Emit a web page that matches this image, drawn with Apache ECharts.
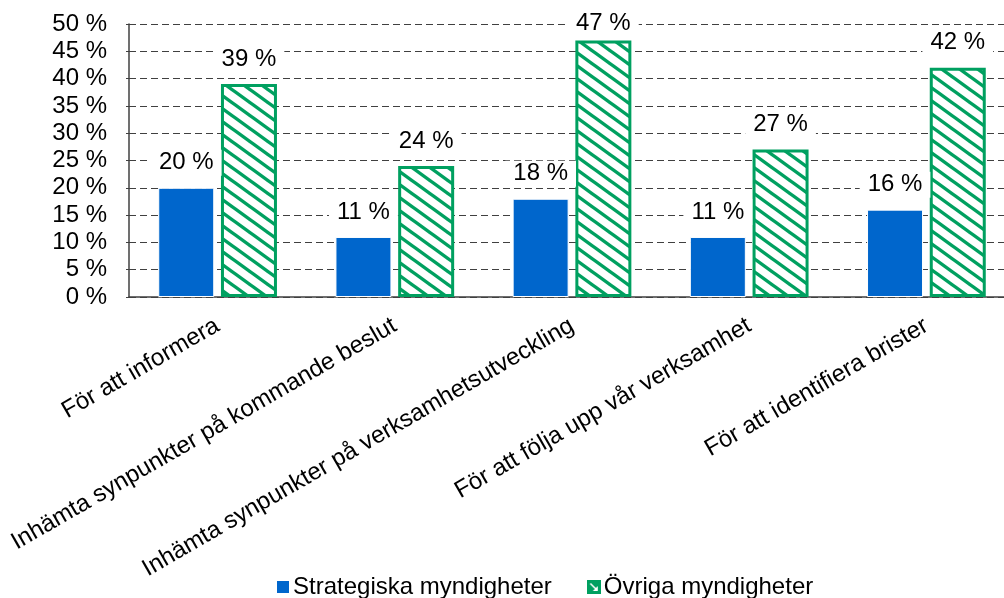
<!DOCTYPE html>
<html>
<head>
<meta charset="utf-8">
<script src="https://cdn.jsdelivr.net/npm/echarts@6/dist/echarts.min.js"></script>
<style>
  html, body { margin: 0; padding: 0; background: #fff; }
  #chart { width: 1004px; height: 598px; }
</style>
</head>
<body>
<div id="chart"></div>
<script>
// Survey answers: share of authorities per purpose (%)
const categories = [
  'För att informera',
  'Inhämta synpunkter på kommande beslut',
  'Inhämta synpunkter på verksamhetsutveckling',
  'För att följa upp vår verksamhet',
  'För att identifiera brister'
];
const seriesNames = ['Strategiska myndigheter', 'Övriga myndigheter'];
const strategiska = [20, 11, 18, 11, 16];
const ovriga = [39, 24, 47, 27, 42];
const yTicks = { min: 0, max: 50, interval: 5 };

const BLUE = '#0066CC';
const GREEN = '#00A060';

// Diagonal hatch tile (stripes running down to the right)
function hatchTile() {
  const W = 18, H = 13;
  const c = document.createElement('canvas');
  c.width = W; c.height = H;
  const g = c.getContext('2d');
  g.fillStyle = '#fff';
  g.fillRect(0, 0, W, H);
  g.strokeStyle = GREEN;
  g.lineWidth = 3.4;
  for (let k = -2; k <= 2; k++) {
    g.beginPath();
    g.moveTo(-W + k * W, -H);
    g.lineTo(2 * W + k * W, 2 * H);
    g.stroke();
  }
  return c;
}

// Legend symbol for the hatched series
function legendIcon() {
  const s = 28;
  const c = document.createElement('canvas');
  c.width = s; c.height = s;
  const g = c.getContext('2d');
  g.fillStyle = GREEN;
  g.fillRect(0, 0, s, s);
  g.strokeStyle = '#fff';
  g.fillStyle = '#fff';
  g.lineWidth = 3;
  g.beginPath();
  g.moveTo(7, 7);
  g.lineTo(19, 19);
  g.stroke();
  g.beginPath();
  g.moveTo(22, 12);
  g.lineTo(22, 22);
  g.lineTo(12, 22);
  g.closePath();
  g.fill();
  return c.toDataURL();
}

const FONT = 'Liberation Sans, Arial, sans-serif';
const FS = 24;

const valueLabel = {
  show: true,
  position: 'top',
  distance: 12,
  formatter: p => p.value + ' %',
  fontFamily: FONT,
  fontSize: FS,
  color: '#000',
  backgroundColor: '#fff',
  padding: [1, 8]
};

// keep value labels inside the top of the plot
const TOP_LIMIT = 10;
const keepInside = p => (p.labelRect.y < TOP_LIMIT ? { dy: TOP_LIMIT - p.labelRect.y } : {});

const chart = echarts.init(document.getElementById('chart'), null, { renderer: 'canvas' });
chart.setOption({
  backgroundColor: '#fff',
  animation: false,
  textStyle: { fontFamily: FONT },
  grid: {
    left: 129, top: 24, width: 886, height: 273,
    containLabel: false,
    outerBoundsMode: 'none'
  },
  legend: {
    left: 275,
    top: 575,
    padding: 0,
    itemWidth: 14,
    itemHeight: 14,
    itemGap: 35,
    textStyle: { fontFamily: FONT, fontSize: FS, color: '#000', padding: [0, 0, 0, -2] },
    data: [
      { name: seriesNames[0], icon: 'rect', itemStyle: { color: BLUE } },
      { name: seriesNames[1], icon: 'image://' + legendIcon() }
    ]
  },
  xAxis: {
    type: 'category',
    data: categories,
    axisLine: { show: true, lineStyle: { color: '#404040', width: 1.5 } },
    axisTick: { show: false },
    axisLabel: {
      rotate: 30,
      interval: 0,
      margin: 27,
      fontFamily: FONT,
      fontSize: FS,
      color: '#000'
    }
  },
  yAxis: {
    type: 'value',
    min: yTicks.min,
    max: yTicks.max,
    interval: yTicks.interval,
    axisLine: { show: true, lineStyle: { color: '#404040', width: 1.5 } },
    axisTick: { show: true, length: 3, lineStyle: { color: '#404040' } },
    axisLabel: {
      margin: 22,
      formatter: v => v + ' %',
      fontFamily: FONT,
      fontSize: FS,
      color: '#000'
    },
    splitLine: { show: true, lineStyle: { color: '#404040', type: [7, 4], width: 1.2 } }
  },
  series: [
    {
      name: seriesNames[0],
      type: 'bar',
      data: strategiska,
      barWidth: 56,
      barGap: '12%',
      itemStyle: { color: BLUE, borderColor: '#fff', borderWidth: 1 },
      label: valueLabel,
      labelLayout: keepInside
    },
    {
      name: seriesNames[1],
      type: 'bar',
      data: ovriga,
      barWidth: 56,
      itemStyle: {
        color: { image: hatchTile(), repeat: 'repeat' },
        borderColor: GREEN,
        borderWidth: 3
      },
      label: valueLabel,
      labelLayout: keepInside
    }
  ]
});
</script>
</body>
</html>
